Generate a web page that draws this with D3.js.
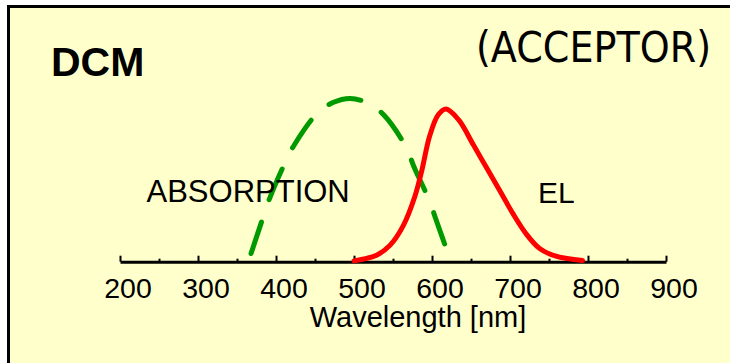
<!DOCTYPE html>
<html>
<head>
<meta charset="utf-8">
<script src="https://cdn.jsdelivr.net/npm/d3@7/dist/d3.min.js"></script>
<style>
  body { margin: 0; background: #fff; }
  text { font-family: "Liberation Sans", Arial, sans-serif; }
</style>
</head>
<body>
<div id="chart"></div>
<script>
// Absorption spectrum (green dashed), normalised
var absWavelength = [368, 384, 392, 411, 424, 453, 473, 495, 518, 538, 567, 577, 597, 605, 622];
var absValue = [0.05, 0.28, 0.39, 0.60, 0.72, 0.91, 0.975, 1.0, 0.972, 0.90, 0.70, 0.58, 0.37, 0.26, 0.03];

// Electroluminescence spectrum (red solid)
var elWavelength = [500, 529, 546, 563, 578, 587, 597, 608, 618, 634, 653, 670, 687, 704, 721, 738, 760, 793];
var elValue = [0.005, 0.04, 0.10, 0.22, 0.40, 0.56, 0.77, 0.90, 0.935, 0.87, 0.716, 0.575, 0.434, 0.293, 0.169, 0.081, 0.032, 0.007];

var majorTicks = [200, 300, 400, 500, 600, 700, 800, 900];
var minorTicks = [250, 350, 450, 550, 650, 750, 850];

var width = 730,
    height = 363;

var svg = d3.select("#chart")
    .append("svg")
    .attr("width", width)
    .attr("height", height);

// Pale yellow panel with black frame on top and left
svg.append("rect")
    .attr("x", 8.5)
    .attr("y", 6.5)
    .attr("width", 800)
    .attr("height", 400)
    .style("fill", "#ffffcc")
    .style("stroke", "#000")
    .style("stroke-width", 3);

var x = d3.scaleLinear().domain([200, 900]).range([120, 666]);
var y = d3.scaleLinear().domain([0, 1]).range([261.7, 98.5]);

// Minor ticks (short)
var minorAxis = d3.axisBottom(x)
    .tickValues(minorTicks)
    .tickSizeInner(-3)
    .tickSizeOuter(0)
    .tickFormat("");

svg.append("g")
    .attr("transform", "translate(0," + y(0) + ")")
    .call(minorAxis)
    .call(g => g.select(".domain").remove())
    .selectAll("line").style("stroke", "#000").style("stroke-width", 2);

// Major ticks, domain line and labels
var majorAxis = d3.axisBottom(x)
    .tickValues(majorTicks)
    .tickSizeInner(-6)
    .tickSizeOuter(0)
    .tickPadding(0);

var gx = svg.append("g")
    .attr("transform", "translate(0," + y(0) + ")")
    .call(majorAxis);

gx.select(".domain").style("stroke", "#000").style("stroke-width", 3);
gx.selectAll(".tick line").style("stroke", "#000").style("stroke-width", 2);
gx.selectAll(".tick text")
    .attr("x", 7.5)
    .attr("y", 36.5)
    .attr("dy", null)
    .style("font-family", "'Liberation Sans', Arial, sans-serif")
    .style("font-size", "28.5px")
    .style("fill", "#000");

// Axis title
svg.append("text")
    .attr("x", 418)
    .attr("y", 327)
    .attr("text-anchor", "middle")
    .style("font-size", "29px")
    .text("Wavelength [nm]");

var line = d3.line()
    .x(d => x(d[0]))
    .y(d => y(d[1]))
    .curve(d3.curveCatmullRom.alpha(0.5));

svg.append("path")
    .datum(d3.zip(absWavelength, absValue))
    .attr("d", line)
    .style("fill", "none")
    .style("stroke", "#009900")
    .style("stroke-width", 5)
    .style("stroke-linecap", "round")
    .style("stroke-dasharray", "33,24");

svg.append("path")
    .datum(d3.zip(elWavelength, elValue))
    .attr("d", line)
    .style("fill", "none")
    .style("stroke", "#ff0000")
    .style("stroke-width", 5)
    .style("stroke-linejoin", "round")
    .style("stroke-linecap", "round");

// Labels
svg.append("text")
    .attr("x", 51)
    .attr("y", 76)
    .style("font-size", "41px")
    .style("font-weight", "bold")
    .text("DCM");

svg.append("text")
    .attr("x", 476)
    .attr("y", 61.5)
    .attr("textLength", 235)
    .attr("lengthAdjust", "spacingAndGlyphs")
    .style("font-family", "'DejaVu Sans Condensed', 'DejaVu Sans', sans-serif")
    .style("font-size", "42px")
    .text("(ACCEPTOR)");

svg.append("text")
    .attr("x", 146.5)
    .attr("y", 202)
    .style("font-size", "31px")
    .text("ABSORPTION");

svg.append("text")
    .attr("x", 538)
    .attr("y", 202.5)
    .style("font-size", "30px")
    .text("EL");
</script>
</body>
</html>
